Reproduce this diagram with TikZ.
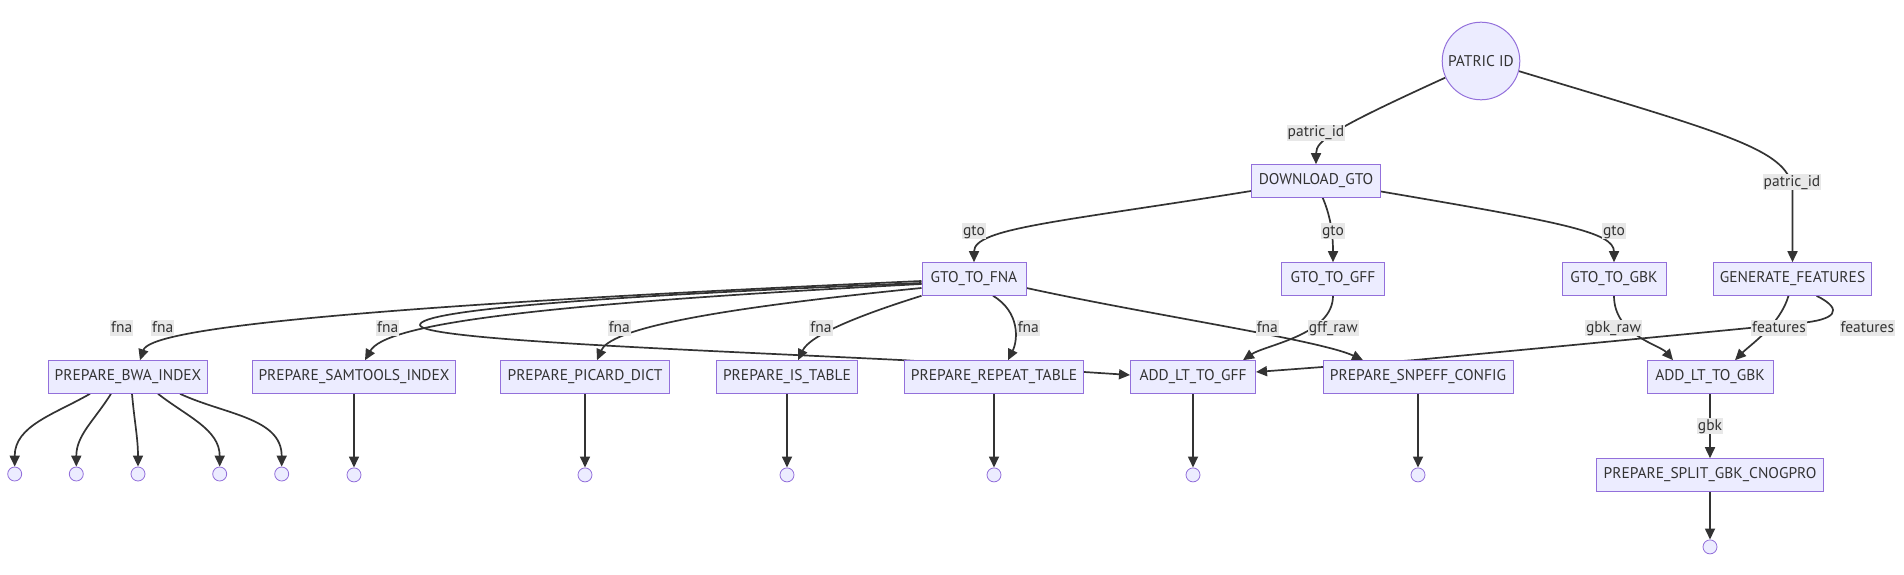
\documentclass[tikz,border=0pt]{standalone}
\usepackage{fontspec}
\setmainfont{PT Sans}
\usepackage{tikz}
\usetikzlibrary{positioning, arrows.meta}
\definecolor{boxfill}{RGB}{236,236,255}
\definecolor{boxline}{RGB}{147,112,219}
\definecolor{edgegray}{RGB}{51,51,51}
\definecolor{lblgray}{RGB}{232,232,232}
\pgfdeclarelayer{edgelayer}
\pgfsetlayers{edgelayer,main}

\begin{document}
\begin{tikzpicture}[x=1pt, y=-1pt,
  box/.style={draw=boxline, fill=boxfill, line width=1pt, minimum height=32.6pt, inner xsep=6pt, text=edgegray, font=\fontsize{15.5}{18}\selectfont},
  endpt/.style={circle, draw=boxline, fill=boxfill, line width=0.8pt, minimum size=14pt, inner sep=0pt},
  lbl/.style={fill=lblgray, inner xsep=1pt, inner ysep=0.5pt, text height=11.5pt, text depth=3.5pt, text=edgegray, font=\fontsize{15.5}{18}\selectfont},
  arr/.style={-{Triangle[length=11pt,width=10pt]}, line width=1.7pt, color=edgegray}]
  \useasboundingbox (0,0) rectangle (1904,575);

  % processes
  \node[box, circle, minimum size=77.6pt, inner sep=0pt] (pid) at (1481,61) {PATRIC ID};
  \node[box, minimum width=129pt] (dl) at (1316,181) {DOWNLOAD\_GTO};
  \node[box, minimum width=104pt] (fna) at (974,279) {GTO\_TO\_FNA};
  \node[box, minimum width=103pt] (gff) at (1333,279) {GTO\_TO\_GFF};
  \node[box, minimum width=104pt] (gbk) at (1614,279) {GTO\_TO\_GBK};
  \node[box, minimum width=158pt] (feat) at (1792.5,279) {GENERATE\_FEATURES};
  \node[box, minimum width=157pt] (bwa) at (128,377) {PREPARE\_BWA\_INDEX};
  \node[box, minimum width=199pt] (sam) at (354,377) {PREPARE\_SAMTOOLS\_INDEX};
  \node[box, minimum width=169pt] (pic) at (585,377) {PREPARE\_PICARD\_DICT};
  \node[box, minimum width=141pt] (ist) at (787,377) {PREPARE\_IS\_TABLE};
  \node[box, minimum width=179pt] (rep) at (994,377) {PREPARE\_REPEAT\_TABLE};
  \node[box, minimum width=125pt] (addgff) at (1193,377) {ADD\_LT\_TO\_GFF};
  \node[box, minimum width=190pt] (snp) at (1418,377) {PREPARE\_SNPEFF\_CONFIG};
  \node[box, minimum width=126pt] (addgbk) at (1710,377) {ADD\_LT\_TO\_GBK};
  \node[box, minimum width=227pt] (split) at (1710,475) {PREPARE\_SPLIT\_GBK\_CNOGPRO};

  % end points
  \foreach \n/\x in {e1/14.7, e2/76.3, e3/138, e4/219.7, e5/281.7}
    \node[endpt] (\n) at (\x,474) {};
  \node[endpt, below=73.7pt of sam] (e6) {};
  \node[endpt, below=73.7pt of pic] (e7) {};
  \node[endpt, below=73.7pt of ist] (e8) {};
  \node[endpt, below=73.7pt of rep] (e9) {};
  \node[endpt, below=73.7pt of addgff] (e10) {};
  \node[endpt, below=73.7pt of snp] (e11) {};
  \node[endpt, below=47.7pt of split] (e12) {};

  \begin{pgfonlayer}{edgelayer}
    \draw[arr] (pid.205) .. controls (1335,128) and (1316,140) .. (dl.north);
    \draw[arr] (pid.-15) .. controls (1730,135) and (1792,150) .. ([yshift=70pt]feat.north) -- (feat.north);
    \draw[arr] ([yshift=-10pt]dl.west) .. controls (1060,222) and (974,228) .. (fna.north);
    \draw[arr] ([xshift=6.7pt]dl.south) .. controls (1330,215) and (1333,232) .. (gff.north);
    \draw[arr] ([yshift=-10.5pt]dl.east) .. controls (1560,222) and (1614,232) .. (gbk.north);
    % fna fan
    \draw[arr] ([yshift=-2pt]fna.west) .. controls (320,308) and (150,330) .. ([xshift=12pt]bwa.north);
    \draw[arr] ([yshift=-5pt]fna.west) .. controls (520,305) and (385,325) .. ([xshift=11pt]sam.north);
    \draw[arr] ([yshift=-9pt]fna.west) .. controls (700,310) and (610,330) .. ([xshift=12pt]pic.north);
    \draw[arr] (fna.south west) .. controls (860,315) and (810,335) .. ([xshift=11pt]ist.north);
    \draw[arr] ([xshift=19pt]fna.south) .. controls (1020,312) and (1018,340) .. ([xshift=14pt]rep.north);
    \draw[arr] ([yshift=-9pt]fna.east) .. controls (1150,315) and (1320,340) .. ([xshift=-55pt]snp.north);
    \draw[arr] ([yshift=-4pt]fna.west) .. controls (600,296) and (420,310) .. (420,325)
      .. controls (420,340) and (700,350) .. (rep.north west) -- ([yshift=2pt]addgff.west);
    \draw[arr] (gff.south) .. controls (1333,335) and (1265,345) .. ([xshift=50pt]addgff.north);
    \draw[arr] (gbk.south) .. controls (1614,335) and (1660,345) .. ([xshift=-37pt]addgbk.north);
    \draw[arr] ([xshift=-4pt]feat.south) .. controls (1780,325) and (1750,345) .. ([xshift=25pt]addgbk.north);
    \draw[arr] ([xshift=24pt]feat.south) .. controls (1845,310) and (1835,320) .. (1800,323)
      .. controls (1700,333) and (1500,352) .. ([xshift=-5pt]snp.north) -- ([yshift=5pt]addgff.east);
    \draw[arr] (addgbk) -- (split);
    % outputs
    \foreach \s/\a/\e in {-38/-150/e1, -17/-122/e2, 4/-85/e3, 30/-38/e4, 52/-25/e5}
      \draw[arr] ([xshift=\s pt]bwa.south) to[out=\a, in=90] (\e);
    \foreach \p/\e in {sam/e6, pic/e7, ist/e8, rep/e9, addgff/e10, snp/e11, split/e12}
      \draw[arr] (\p) -- (\e);
    % edge labels
    \foreach \n/\t/\x/\y in {l1/patric\_id/1316/132.7, l2/patric\_id/1792/182.3,
        l3/gto/974/231, l4/gto/1333/231, l5/gto/1614/231,
        l6/fna/121.7/328, l7/fna/162.7/328, l8/fna/387.7/328, l9/fna/619.3/328,
        l10/fna/821/328, l11/fna/1028.3/328, l12/fna/1267.3/328,
        l13/gff\_raw/1333.3/328, l14/gbk\_raw/1613.5/328,
        l15/features/1779/328, l16/features/1867.3/328, l17/gbk/1710/426}
      \node[lbl] (\n) at (\x,\y) {\t};
  \end{pgfonlayer}
\end{tikzpicture}
\end{document}
